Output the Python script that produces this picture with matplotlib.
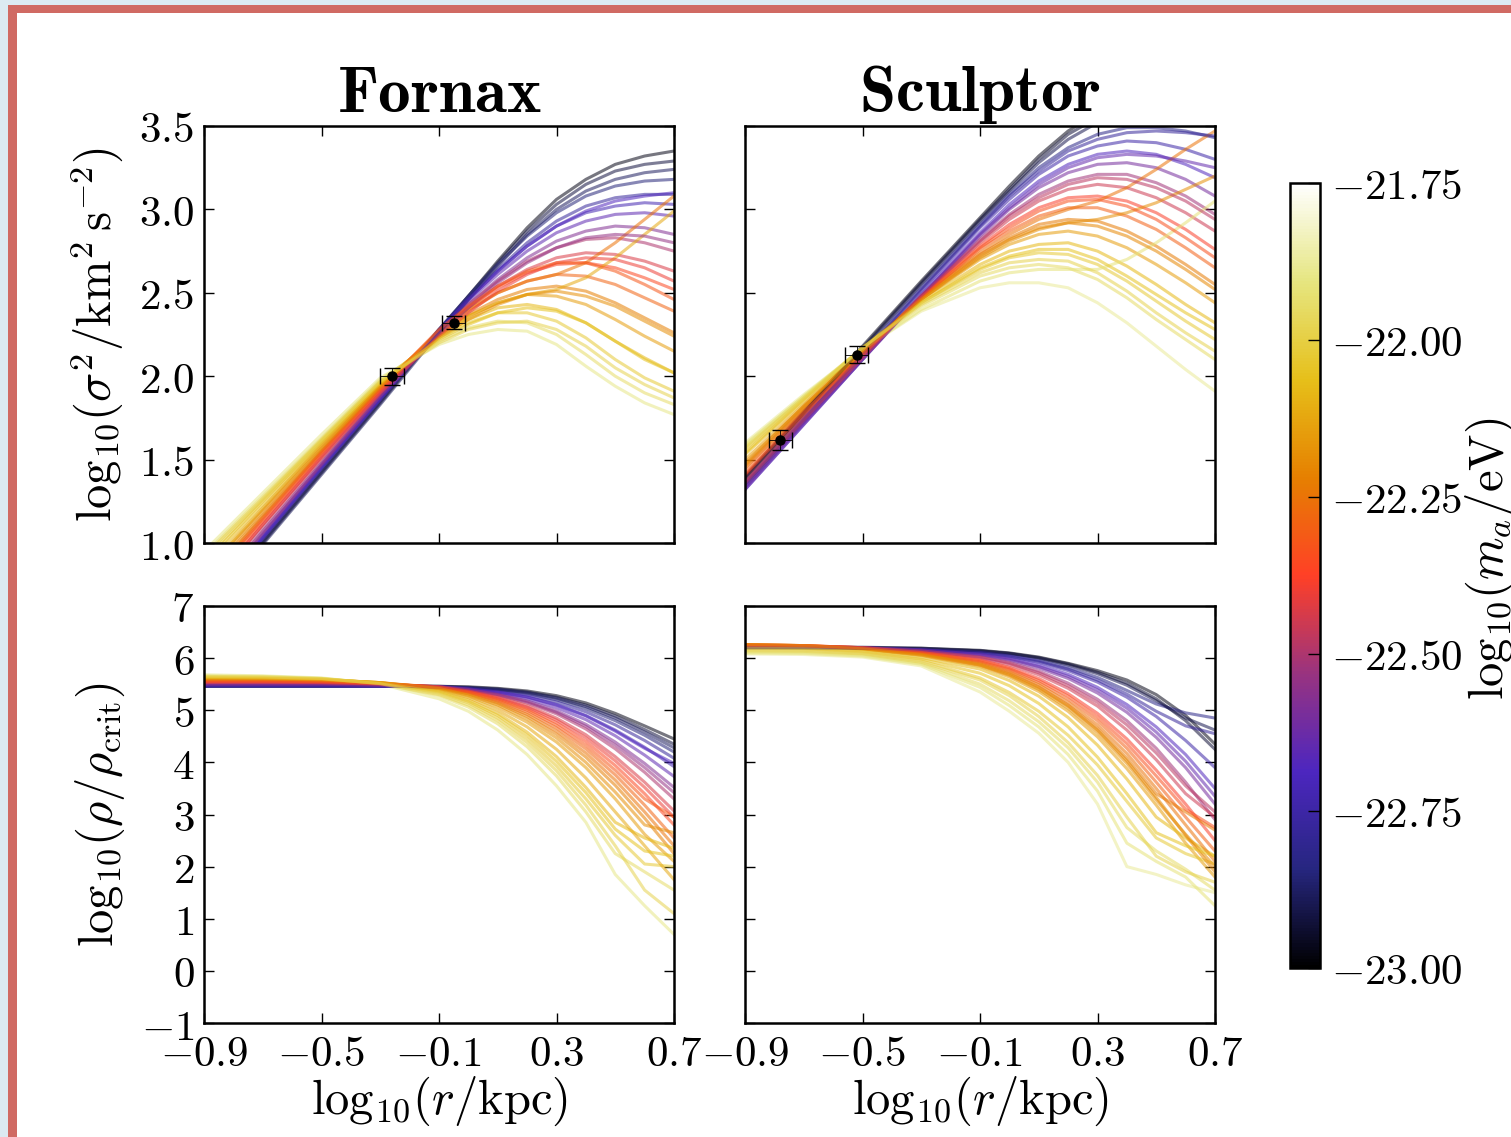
import matplotlib.pyplot as plt
import numpy as np
from matplotlib import colors
from matplotlib.cm import ScalarMappable
from matplotlib.patches import Rectangle
from matplotlib.ticker import FuncFormatter, FixedLocator

plt.rcParams['mathtext.fontset'] = 'cm'

# radial grid, log10(r/kpc)
log_r = [-0.9, -0.7, -0.5, -0.3, -0.1, 0.0, 0.1, 0.2, 0.3, 0.4, 0.5, 0.6, 0.7]

# --- Fornax samples: log10(m_a/eV) and profiles ---
fornax_m = [-22.97, -22.92, -22.85, -22.78, -22.72, -22.65, -22.58, -22.50, -22.43, -22.36,
            -22.29, -22.22, -22.15, -22.08, -22.02, -21.95, -21.90, -22.25, -22.12,
            -22.88, -22.68, -22.54, -22.40, -22.32, -22.18, -22.05, -21.98]

fornax_sigma = [
    [0.58, 1.00, 1.42, 1.84, 2.27, 2.48, 2.69, 2.89, 3.06, 3.18, 3.27, 3.32, 3.35],
    [0.59, 1.01, 1.43, 1.85, 2.28, 2.48, 2.68, 2.87, 3.03, 3.15, 3.23, 3.27, 3.29],
    [0.60, 1.02, 1.44, 1.86, 2.28, 2.48, 2.67, 2.84, 2.98, 3.08, 3.14, 3.17, 3.18],
    [0.61, 1.03, 1.45, 1.87, 2.28, 2.47, 2.64, 2.80, 2.93, 3.02, 3.07, 3.09, 3.09],
    [0.62, 1.04, 1.46, 1.87, 2.27, 2.46, 2.63, 2.78, 2.90, 2.98, 3.02, 3.04, 3.03],
    [0.63, 1.05, 1.47, 1.88, 2.27, 2.45, 2.61, 2.75, 2.86, 2.93, 2.97, 2.98, 2.96],
    [0.65, 1.07, 1.48, 1.89, 2.26, 2.43, 2.58, 2.71, 2.81, 2.87, 2.90, 2.89, 2.85],
    [0.67, 1.09, 1.50, 1.90, 2.27, 2.43, 2.57, 2.69, 2.77, 2.82, 2.83, 2.80, 2.75],
    [0.69, 1.11, 1.52, 1.91, 2.26, 2.41, 2.54, 2.64, 2.71, 2.74, 2.73, 2.69, 2.63],
    [0.72, 1.13, 1.53, 1.92, 2.27, 2.41, 2.53, 2.62, 2.67, 2.68, 2.65, 2.59, 2.52],
    [0.75, 1.15, 1.55, 1.93, 2.26, 2.39, 2.50, 2.57, 2.61, 2.60, 2.55, 2.47, 2.39],
    [0.78, 1.17, 1.56, 1.94, 2.25, 2.37, 2.46, 2.52, 2.54, 2.51, 2.44, 2.35, 2.26],
    [0.82, 1.20, 1.58, 1.95, 2.25, 2.36, 2.44, 2.49, 2.48, 2.43, 2.34, 2.24, 2.15],
    [0.86, 1.23, 1.60, 1.96, 2.24, 2.34, 2.41, 2.43, 2.40, 2.32, 2.21, 2.11, 2.02],
    [0.90, 1.26, 1.62, 1.97, 2.23, 2.32, 2.38, 2.38, 2.33, 2.23, 2.10, 1.99, 1.91],
    [0.93, 1.28, 1.63, 1.98, 2.21, 2.29, 2.33, 2.32, 2.25, 2.13, 2.00, 1.90, 1.83],
    [0.95, 1.30, 1.65, 1.99, 2.19, 2.25, 2.28, 2.27, 2.19, 2.06, 1.94, 1.84, 1.77],
    [0.76, 1.16, 1.55, 1.93, 2.27, 2.40, 2.50, 2.57, 2.61, 2.68, 2.80, 2.94, 3.08],
    [0.83, 1.21, 1.59, 1.95, 2.25, 2.36, 2.44, 2.49, 2.52, 2.59, 2.71, 2.85, 2.99],
    [0.57, 0.99, 1.41, 1.83, 2.26, 2.46, 2.66, 2.85, 3.00, 3.11, 3.18, 3.22, 3.24],
    [0.61, 1.03, 1.45, 1.86, 2.27, 2.46, 2.63, 2.78, 2.90, 2.99, 3.05, 3.08, 3.10],
    [0.64, 1.06, 1.47, 1.88, 2.25, 2.41, 2.56, 2.68, 2.77, 2.83, 2.85, 2.84, 2.80],
    [0.70, 1.11, 1.51, 1.90, 2.24, 2.38, 2.51, 2.61, 2.68, 2.71, 2.70, 2.65, 2.57],
    [0.74, 1.14, 1.54, 1.92, 2.28, 2.42, 2.54, 2.63, 2.68, 2.68, 2.63, 2.55, 2.46],
    [0.80, 1.19, 1.57, 1.94, 2.23, 2.34, 2.43, 2.49, 2.51, 2.48, 2.42, 2.33, 2.24],
    [0.88, 1.25, 1.61, 1.96, 2.22, 2.31, 2.38, 2.41, 2.39, 2.32, 2.21, 2.10, 2.02],
    [0.92, 1.27, 1.62, 1.97, 2.20, 2.28, 2.32, 2.33, 2.28, 2.18, 2.05, 1.95, 1.87],
]

fornax_rho = [
    [5.47, 5.47, 5.47, 5.47, 5.46, 5.45, 5.42, 5.37, 5.28, 5.14, 4.94, 4.70, 4.45],
    [5.47, 5.47, 5.47, 5.47, 5.46, 5.44, 5.41, 5.35, 5.25, 5.10, 4.89, 4.63, 4.35],
    [5.46, 5.46, 5.46, 5.46, 5.45, 5.43, 5.39, 5.32, 5.20, 5.03, 4.80, 4.52, 4.20],
    [5.46, 5.46, 5.46, 5.46, 5.45, 5.42, 5.37, 5.29, 5.16, 4.97, 4.72, 4.42, 4.08],
    [5.47, 5.47, 5.47, 5.47, 5.45, 5.42, 5.35, 5.26, 5.11, 4.90, 4.62, 4.29, 3.92],
    [5.48, 5.48, 5.48, 5.47, 5.45, 5.41, 5.33, 5.22, 5.05, 4.82, 4.51, 4.14, 3.73],
    [5.50, 5.50, 5.50, 5.48, 5.45, 5.40, 5.31, 5.18, 4.99, 4.73, 4.39, 3.98, 3.52],
    [5.51, 5.51, 5.51, 5.49, 5.45, 5.39, 5.29, 5.14, 4.93, 4.64, 4.26, 3.81, 3.30],
    [5.53, 5.53, 5.52, 5.50, 5.45, 5.38, 5.26, 5.09, 4.85, 4.53, 4.11, 3.62, 3.07],
    [5.55, 5.55, 5.54, 5.51, 5.45, 5.36, 5.22, 5.03, 4.76, 4.40, 3.94, 3.40, 2.80],
    [5.57, 5.57, 5.56, 5.52, 5.44, 5.34, 5.18, 4.96, 4.66, 4.26, 3.76, 3.18, 2.55],
    [5.59, 5.59, 5.57, 5.53, 5.43, 5.31, 5.13, 4.88, 4.54, 4.10, 3.56, 2.93, 2.25],
    [5.61, 5.61, 5.59, 5.53, 5.41, 5.27, 5.06, 4.77, 4.39, 3.90, 3.30, 2.62, 2.10],
    [5.62, 5.62, 5.59, 5.53, 5.37, 5.20, 4.94, 4.58, 4.11, 3.52, 2.85, 2.55, 2.35],
    [5.64, 5.63, 5.60, 5.52, 5.33, 5.14, 4.85, 4.45, 3.93, 3.30, 2.60, 2.05, 2.00],
    [5.66, 5.65, 5.61, 5.51, 5.28, 5.06, 4.74, 4.30, 3.74, 3.05, 2.25, 1.90, 1.55],
    [5.68, 5.66, 5.62, 5.50, 5.22, 4.98, 4.62, 4.15, 3.55, 2.85, 1.85, 1.25, 0.70],
    [5.58, 5.58, 5.56, 5.52, 5.43, 5.32, 5.15, 4.92, 4.60, 4.18, 3.66, 3.05, 2.40],
    [5.61, 5.61, 5.59, 5.53, 5.39, 5.24, 5.00, 4.68, 4.25, 3.70, 3.05, 2.40, 1.75],
    [5.46, 5.46, 5.46, 5.46, 5.45, 5.43, 5.40, 5.34, 5.23, 5.07, 4.85, 4.58, 4.28],
    [5.47, 5.47, 5.47, 5.46, 5.45, 5.41, 5.35, 5.25, 5.10, 4.89, 4.60, 4.27, 3.98],
    [5.50, 5.50, 5.50, 5.48, 5.45, 5.40, 5.30, 5.16, 4.96, 4.69, 4.33, 3.90, 3.42],
    [5.54, 5.54, 5.53, 5.50, 5.45, 5.37, 5.24, 5.06, 4.81, 4.47, 4.03, 3.52, 2.95],
    [5.56, 5.56, 5.55, 5.51, 5.44, 5.35, 5.20, 5.00, 4.71, 4.33, 3.85, 3.30, 2.95],
    [5.60, 5.60, 5.58, 5.53, 5.42, 5.29, 5.10, 4.83, 4.47, 4.00, 3.43, 2.80, 2.65],
    [5.63, 5.62, 5.60, 5.52, 5.35, 5.17, 4.90, 4.52, 4.02, 3.42, 2.72, 2.30, 2.20],
    [5.65, 5.64, 5.61, 5.51, 5.30, 5.10, 4.80, 4.38, 3.84, 3.18, 2.40, 1.55, 1.10],
]

# --- Sculptor samples ---
sculptor_m = [-22.97, -22.90, -22.82, -22.75, -22.68, -22.60, -22.52, -22.45, -22.38, -22.30,
              -22.23, -22.15, -22.08, -22.02, -21.95, -21.88, -22.25, -22.18, -21.92,
              -22.93, -22.78, -22.64, -22.48, -22.34, -22.20, -22.05, -21.98]

sculptor_sigma = [
    [1.40, 1.79, 2.18, 2.57, 2.95, 3.14, 3.32, 3.47, 3.58, 3.65, 3.68, 3.69, 3.68],
    [1.38, 1.77, 2.16, 2.55, 2.93, 3.11, 3.28, 3.42, 3.52, 3.57, 3.59, 3.58, 3.55],
    [1.36, 1.75, 2.14, 2.53, 2.91, 3.09, 3.25, 3.37, 3.45, 3.49, 3.49, 3.47, 3.43],
    [1.34, 1.73, 2.12, 2.51, 2.89, 3.06, 3.21, 3.32, 3.38, 3.41, 3.40, 3.36, 3.30],
    [1.32, 1.71, 2.10, 2.49, 2.86, 3.03, 3.17, 3.27, 3.33, 3.35, 3.33, 3.27, 3.19],
    [1.33, 1.72, 2.10, 2.48, 2.84, 3.00, 3.13, 3.22, 3.27, 3.28, 3.25, 3.18, 3.08],
    [1.35, 1.73, 2.11, 2.48, 2.82, 2.97, 3.09, 3.17, 3.21, 3.21, 3.16, 3.08, 2.97],
    [1.37, 1.75, 2.12, 2.48, 2.80, 2.94, 3.05, 3.12, 3.15, 3.13, 3.07, 2.98, 2.87],
    [1.40, 1.77, 2.13, 2.48, 2.78, 2.91, 3.01, 3.07, 3.08, 3.05, 2.98, 2.88, 2.76],
    [1.43, 1.79, 2.14, 2.47, 2.76, 2.87, 2.96, 3.01, 3.01, 2.96, 2.88, 2.77, 2.65],
    [1.46, 1.81, 2.15, 2.47, 2.73, 2.83, 2.91, 2.94, 2.93, 2.87, 2.78, 2.67, 2.55],
    [1.50, 1.83, 2.16, 2.46, 2.70, 2.79, 2.85, 2.87, 2.84, 2.77, 2.67, 2.56, 2.44],
    [1.53, 1.85, 2.17, 2.45, 2.67, 2.75, 2.79, 2.80, 2.75, 2.66, 2.55, 2.43, 2.32],
    [1.56, 1.87, 2.17, 2.44, 2.64, 2.71, 2.74, 2.73, 2.67, 2.57, 2.45, 2.33, 2.22],
    [1.58, 1.88, 2.17, 2.42, 2.60, 2.65, 2.67, 2.65, 2.58, 2.47, 2.34, 2.22, 2.10],
    [1.60, 1.89, 2.16, 2.39, 2.53, 2.56, 2.56, 2.53, 2.44, 2.32, 2.18, 2.04, 1.91],
    [1.45, 1.80, 2.15, 2.47, 2.74, 2.85, 2.94, 3.00, 3.05, 3.13, 3.24, 3.36, 3.47],
    [1.48, 1.82, 2.15, 2.46, 2.71, 2.81, 2.88, 2.92, 2.94, 2.98, 3.04, 3.12, 3.20],
    [1.59, 1.88, 2.16, 2.40, 2.57, 2.62, 2.64, 2.64, 2.64, 2.70, 2.80, 2.92, 3.05],
    [1.39, 1.78, 2.17, 2.56, 2.94, 3.12, 3.30, 3.45, 3.55, 3.61, 3.63, 3.62, 3.60],
    [1.35, 1.74, 2.13, 2.52, 2.90, 3.08, 3.23, 3.35, 3.42, 3.46, 3.47, 3.46, 3.44],
    [1.32, 1.71, 2.10, 2.48, 2.85, 3.01, 3.15, 3.25, 3.31, 3.33, 3.32, 3.29, 3.25],
    [1.36, 1.74, 2.11, 2.48, 2.81, 2.96, 3.07, 3.15, 3.19, 3.18, 3.13, 3.05, 2.94],
    [1.41, 1.78, 2.13, 2.47, 2.77, 2.89, 2.99, 3.05, 3.06, 3.02, 2.94, 2.83, 2.71],
    [1.47, 1.82, 2.15, 2.46, 2.72, 2.82, 2.89, 2.92, 2.90, 2.84, 2.75, 2.64, 2.52],
    [1.54, 1.86, 2.17, 2.44, 2.65, 2.72, 2.76, 2.76, 2.70, 2.60, 2.49, 2.38, 2.28],
    [1.57, 1.87, 2.17, 2.43, 2.62, 2.68, 2.70, 2.69, 2.62, 2.51, 2.38, 2.26, 2.15],
]

sculptor_rho = [
    [6.20, 6.20, 6.20, 6.19, 6.15, 6.10, 6.02, 5.90, 5.76, 5.58, 5.30, 4.90, 4.35],
    [6.21, 6.21, 6.21, 6.19, 6.14, 6.09, 6.00, 5.87, 5.70, 5.48, 5.18, 4.85, 4.62],
    [6.20, 6.20, 6.19, 6.17, 6.12, 6.06, 5.96, 5.82, 5.63, 5.38, 5.12, 4.95, 4.85],
    [6.20, 6.20, 6.19, 6.16, 6.10, 6.03, 5.92, 5.76, 5.54, 5.25, 4.88, 4.42, 3.90],
    [6.21, 6.21, 6.20, 6.16, 6.08, 6.00, 5.87, 5.69, 5.44, 5.11, 4.68, 4.15, 3.50],
    [6.22, 6.22, 6.20, 6.15, 6.06, 5.96, 5.81, 5.61, 5.33, 4.96, 4.48, 3.90, 3.20],
    [6.23, 6.22, 6.20, 6.14, 6.03, 5.92, 5.75, 5.52, 5.21, 4.80, 4.27, 3.62, 2.90],
    [6.24, 6.23, 6.20, 6.13, 6.00, 5.87, 5.68, 5.42, 5.08, 4.62, 4.05, 3.40, 2.95],
    [6.25, 6.24, 6.20, 6.12, 5.97, 5.82, 5.61, 5.32, 4.94, 4.45, 3.85, 3.20, 2.50],
    [6.26, 6.24, 6.20, 6.10, 5.93, 5.77, 5.53, 5.21, 4.80, 4.27, 3.62, 2.95, 2.30],
    [6.26, 6.24, 6.19, 6.08, 5.89, 5.71, 5.45, 5.10, 4.65, 4.08, 3.40, 3.05, 2.70],
    [6.25, 6.23, 6.17, 6.05, 5.84, 5.64, 5.36, 4.98, 4.49, 3.88, 3.18, 2.45, 1.80],
    [6.22, 6.20, 6.14, 6.01, 5.79, 5.57, 5.27, 4.86, 4.33, 3.68, 2.95, 2.55, 2.20],
    [6.16, 6.15, 6.09, 5.95, 5.62, 5.34, 4.98, 4.52, 3.95, 3.25, 2.55, 2.25, 2.05],
    [6.12, 6.11, 6.06, 5.90, 5.50, 5.18, 4.78, 4.28, 3.62, 2.75, 2.30, 1.95, 1.55],
    [6.08, 6.07, 6.02, 5.85, 5.35, 4.98, 4.56, 4.00, 3.20, 2.00, 1.85, 1.65, 1.50],
    [6.26, 6.24, 6.19, 6.09, 5.91, 5.74, 5.49, 5.15, 4.72, 4.17, 3.50, 2.80, 2.10],
    [6.25, 6.23, 6.18, 6.06, 5.86, 5.67, 5.40, 5.04, 4.57, 3.98, 3.28, 2.62, 2.00],
    [6.10, 6.09, 6.04, 5.88, 5.44, 5.09, 4.68, 4.15, 3.45, 2.45, 2.10, 1.80, 1.25],
    [6.20, 6.20, 6.20, 6.18, 6.14, 6.09, 6.01, 5.89, 5.73, 5.52, 5.22, 4.80, 4.25],
    [6.20, 6.20, 6.19, 6.16, 6.11, 6.04, 5.94, 5.79, 5.58, 5.31, 4.98, 4.70, 4.55],
    [6.21, 6.21, 6.20, 6.16, 6.07, 5.98, 5.84, 5.65, 5.39, 5.04, 4.58, 4.02, 3.35],
    [6.24, 6.23, 6.20, 6.14, 6.02, 5.90, 5.72, 5.47, 5.15, 4.72, 4.18, 3.55, 3.05],
    [6.25, 6.24, 6.20, 6.11, 5.95, 5.80, 5.57, 5.27, 4.87, 4.36, 3.74, 3.10, 2.75],
    [6.26, 6.24, 6.18, 6.07, 5.87, 5.69, 5.43, 5.08, 4.62, 4.03, 3.33, 2.60, 1.90],
    [6.19, 6.18, 6.12, 5.98, 5.71, 5.47, 5.13, 4.68, 4.10, 3.40, 2.65, 2.40, 2.20],
    [6.14, 6.13, 6.08, 5.92, 5.58, 5.28, 4.88, 4.38, 3.75, 2.95, 2.20, 1.90, 1.70],
]

# measured dispersions (x, y, xerr, yerr)
fornax_obs_r = [-0.26, -0.05]
fornax_obs_s = [2.00, 2.32]
fornax_obs_rerr = [0.04, 0.04]
fornax_obs_serr = [0.05, 0.04]
sculptor_obs_r = [-0.78, -0.52]
sculptor_obs_s = [1.62, 2.13]
sculptor_obs_rerr = [0.04, 0.04]
sculptor_obs_serr = [0.06, 0.05]

m_ticks = [-23.00, -22.75, -22.50, -22.25, -22.00, -21.75]
r_ticks = [-0.9, -0.5, -0.1, 0.3, 0.7]
sigma_ticks = [1.0, 1.5, 2.0, 2.5, 3.0, 3.5]
rho_ticks = [-1, 0, 1, 2, 3, 4, 5, 6, 7]

W, H = 1511, 1137
cmap = plt.get_cmap('CMRmap')
norm = colors.Normalize(vmin=-23.0, vmax=-21.75)

fig = plt.figure(figsize=(W / 100, H / 100), dpi=100, facecolor='#dceaf2')
# slide frame
fig.patches.append(Rectangle((8 / W, -0.05), 1.1, 1.05 - 5 / H, transform=fig.transFigure,
                             facecolor='#d06a63', edgecolor='none', zorder=-3))
fig.patches.append(Rectangle((17 / W, -0.05), 1.1, 1.05 - 13 / H, transform=fig.transFigure,
                             facecolor='white', edgecolor='none', zorder=-2))


def px_axes(l, t, r, b):
    return fig.add_axes([l / W, 1 - b / H, (r - l) / W, (b - t) / H])


ax_fs = px_axes(204, 126, 674, 543)
ax_ss = px_axes(745, 126, 1215, 543)
ax_fr = px_axes(204, 606, 674, 1023)
ax_sr = px_axes(745, 606, 1215, 1023)

fmt1 = FuncFormatter(lambda v, p: r'$%.1f$' % v)
fmt0 = FuncFormatter(lambda v, p: r'$%d$' % round(v))

panels = [
    (ax_fs, fornax_m, fornax_sigma, (1.0, 3.5), sigma_ticks, fmt1),
    (ax_ss, sculptor_m, sculptor_sigma, (1.0, 3.5), sigma_ticks, fmt1),
    (ax_fr, fornax_m, fornax_rho, (-1, 7), rho_ticks, fmt0),
    (ax_sr, sculptor_m, sculptor_rho, (-1, 7), rho_ticks, fmt0),
]

for ax, ms, profiles, ylim, yt, yfmt in panels:
    for m, prof in zip(ms, profiles):
        ax.plot(log_r, prof, color=cmap(norm(m)), alpha=0.55, lw=2.2)
    ax.set_xlim(-0.9, 0.7)
    ax.set_ylim(*ylim)
    ax.xaxis.set_major_locator(FixedLocator(r_ticks))
    ax.yaxis.set_major_locator(FixedLocator(yt))
    ax.xaxis.set_major_formatter(fmt1)
    ax.yaxis.set_major_formatter(yfmt)
    ax.tick_params(direction='in', length=7, width=1.0, top=True, right=True,
                   labelsize=31, pad=7)
    for s in ax.spines.values():
        s.set_linewidth(1.8)

for ax in (ax_fs, ax_ss):
    ax.tick_params(labelbottom=False)
for ax in (ax_ss, ax_sr):
    ax.tick_params(labelleft=False)

ax_fs.errorbar(fornax_obs_r, fornax_obs_s, xerr=fornax_obs_rerr, yerr=fornax_obs_serr,
               fmt='o', color='k', ms=6.5, capsize=6, elinewidth=0.6, capthick=1, zorder=5)
ax_ss.errorbar(sculptor_obs_r, sculptor_obs_s, xerr=sculptor_obs_rerr, yerr=sculptor_obs_serr,
               fmt='o', color='k', ms=6.5, capsize=6, elinewidth=0.6, capthick=1, zorder=5)

ax_fs.set_title(r'$\mathbf{Fornax}$', fontsize=47, pad=9)
ax_ss.set_title(r'$\mathbf{Sculptor}$', fontsize=47, pad=9)

ax_fs.set_ylabel(r'$\mathrm{log}_{10}(\sigma^2/\mathrm{km}^2\,\mathrm{s}^{-2})$', fontsize=35, labelpad=10)
ax_fr.set_ylabel(r'$\mathrm{log}_{10}(\rho/\rho_{\rm crit})$', fontsize=35, labelpad=10)
ax_fr.set_xlabel(r'$\mathrm{log}_{10}(r/\mathrm{kpc})$', fontsize=35, labelpad=0)
ax_sr.set_xlabel(r'$\mathrm{log}_{10}(r/\mathrm{kpc})$', fontsize=35, labelpad=0)

cax = px_axes(1290, 183, 1320, 968)
cb = fig.colorbar(ScalarMappable(norm=norm, cmap=cmap), cax=cax, ticks=m_ticks)
cb.ax.yaxis.set_major_formatter(FuncFormatter(lambda v, p: r'$%.2f$' % v))
cb.ax.tick_params(direction='in', length=9, width=1.0, labelsize=31, pad=8)
cb.outline.set_linewidth(1.8)
fig.text(1464 / W, 578 / H, r'$\mathrm{log}_{10}(m_a/\mathrm{eV})$', rotation=90,
         ha='left', va='center', fontsize=35)

fig.savefig('out.png', dpi=100, facecolor=fig.get_facecolor())
